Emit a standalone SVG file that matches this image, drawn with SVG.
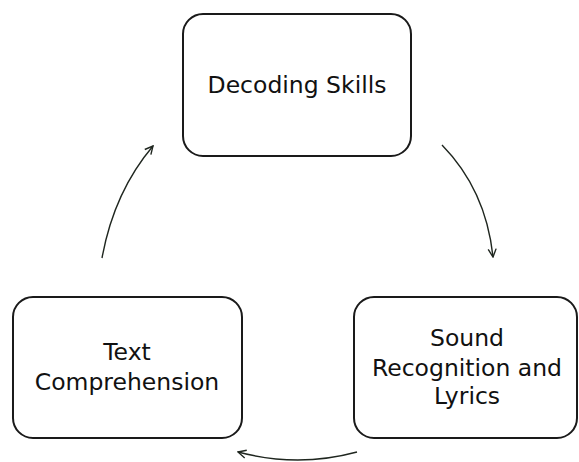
<svg xmlns="http://www.w3.org/2000/svg" width="579" height="462" viewBox="0 0 579 462">
<defs>
<style>
.box{fill:#fff;stroke:#1a1a1a;stroke-width:2}
.lbl{font-family:"DejaVu Sans",sans-serif;font-size:23.5px;fill:#111;text-anchor:middle}
.conn{fill:none;stroke:#1f261f;stroke-width:1.4}
</style>
<marker id="ah" viewBox="0 0 10 10" refX="9" refY="5" markerWidth="10" markerHeight="10" markerUnits="userSpaceOnUse" orient="auto">
<path d="M1,1 L9,5 L1,9" fill="none" stroke="#1f261f" stroke-width="1.4"/>
</marker>
</defs>
<rect width="579" height="462" fill="#fff"/>
<g id="connectors">
<path class="conn" d="M442,145 Q486,190 493,257" marker-end="url(#ah)"/>
<path class="conn" d="M357,452 Q298,468 238,452" marker-end="url(#ah)"/>
<path class="conn" d="M102,258 Q114,192 153,146" marker-end="url(#ah)"/>
</g>
<g id="decoding">
<rect class="box" x="183" y="14" width="228" height="142" rx="20"/>
<text class="lbl" x="297" y="93">Decoding Skills</text>
</g>
<g id="sound">
<rect class="box" x="354" y="297" width="223" height="141" rx="20"/>
<text class="lbl" x="467" y="346">Sound</text>
<text class="lbl" x="467" y="376">Recognition and</text>
<text class="lbl" x="467" y="404">Lyrics</text>
</g>
<g id="text">
<rect class="box" x="13" y="297" width="229" height="141" rx="20"/>
<text class="lbl" x="127" y="360">Text</text>
<text class="lbl" x="127" y="390">Comprehension</text>
</g>
</svg>
